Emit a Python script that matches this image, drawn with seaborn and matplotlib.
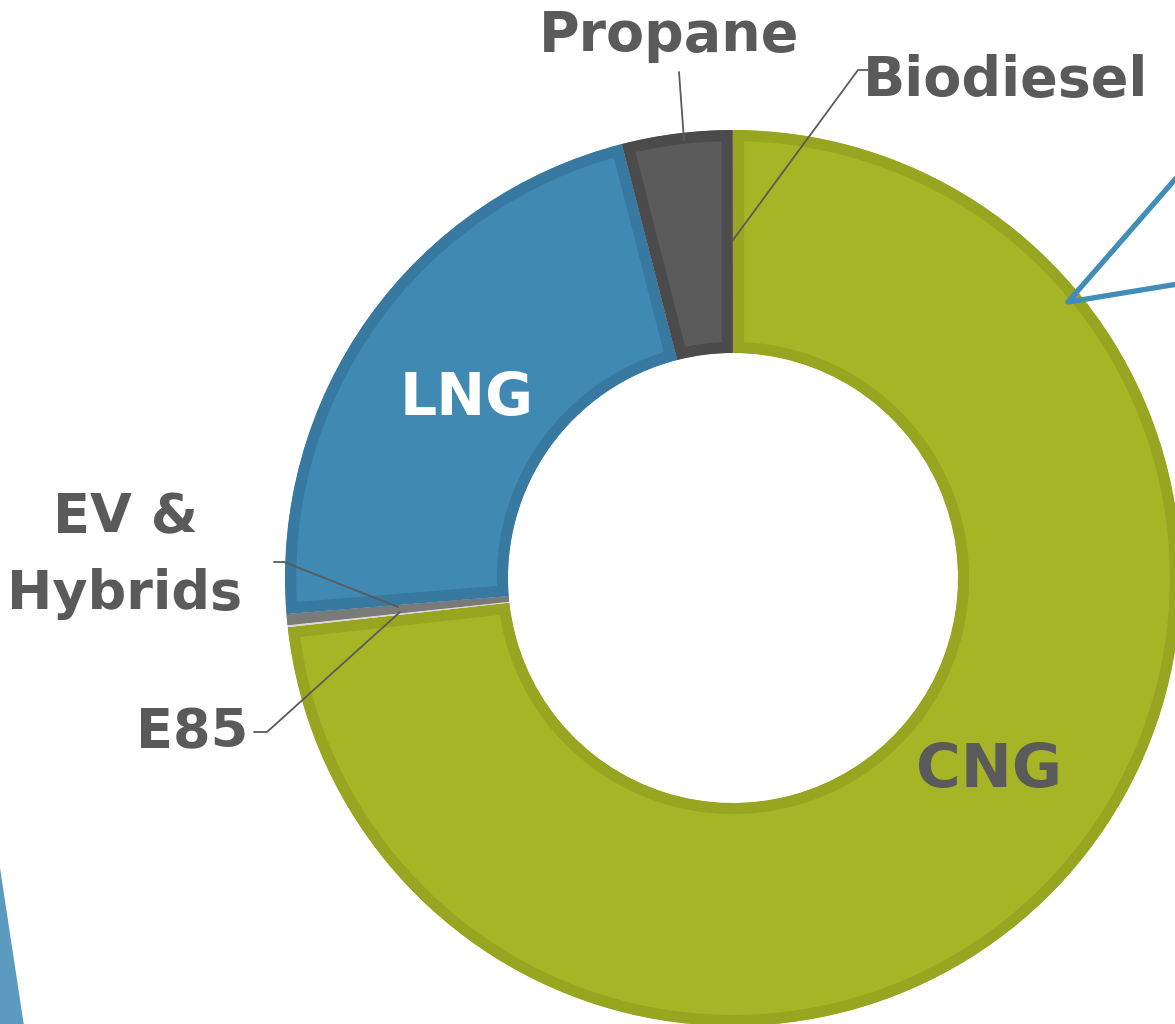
import matplotlib
matplotlib.use('Agg')
import matplotlib.pyplot as plt
import seaborn as sns

# share of fleet by fuel (percent), clockwise from 12 o'clock
fuels = ['CNG', 'E85', 'EV & Hybrids', 'LNG', 'Propane', 'Biodiesel']
shares = [73.25, 0.07, 0.40, 22.29, 3.98, 0.01]
fills = ['#A6B526', '#EDEDED', '#7A7A7A', '#3F89B2', '#5B5B5B', '#8A8A8A']
edges = ['#97A521', '#D8D8D8', '#7A7A7A', '#3779A0', '#4B4B4B', '#8A8A8A']

W, H = 1175, 1024
TXT = '#5A5A5A'

sns.set_style('white')
plt.rcParams['font.family'] = ['DejaVu Sans']

fig = plt.figure(figsize=(W / 100, H / 100), dpi=100)
ax = fig.add_axes([0, 0, 1, 1])


def P(x, y):
    # picture coords (y down) -> axes coords (y up)
    return x, H - y


cx, cy = P(733, 578)
r_out, r_in = 448, 225

wedges, _ = ax.pie(shares, colors=fills, startangle=90, counterclock=False,
                   radius=r_out, center=(cx, cy),
                   wedgeprops=dict(width=r_out - r_in, linewidth=16))
for w, ec in zip(wedges, edges):
    w.set_edgecolor(ec)
    # keep only the inner half of the stroke -> border drawn inside the slice
    w.set_clip_on(True)
    w.set_clip_path(w)
wedges[-1].set_linewidth(0)

# labels
bold = dict(fontweight='bold', ha='center', va='center', color=TXT)
ax.text(*P(669, 36), 'Propane', fontsize=40, **bold)
ax.text(*P(1006, 81), 'Biodiesel', fontsize=40, **bold)
ax.text(*P(125, 556), 'EV &\nHybrids', fontsize=39, linespacing=1.6, **bold)
ax.text(*P(192, 732), 'E85', fontsize=39, **bold)
ax.text(*P(989, 771), 'CNG', fontsize=44, **bold)
ax.text(*P(467, 398), 'LNG', fontsize=42, fontweight='bold', ha='center',
        va='center', color='white')

# leader lines
lead = dict(color=TXT, lw=1.3)
ax.plot(*zip(P(679, 72), P(684, 140)), **lead)
ax.plot(*zip(P(733, 240), P(858, 70), P(868, 70)), **lead)
ax.plot(*zip(P(274, 562), P(284, 562), P(398, 607)), **lead)
ax.plot(*zip(P(254, 732), P(267, 732), P(400, 612)), **lead)

# pieces of neighbouring shapes cut off by the frame
ax.plot(*zip(P(1178, 176), P(1068, 302), P(1178, 284)), color='#3F8DB8',
        lw=3.8, solid_joinstyle='round', solid_capstyle='round')
ax.fill(*zip(P(0, 868), P(24, 1026), P(0, 1026)), color='#5B9BC0', lw=0)

ax.set_xlim(0, W)
ax.set_ylim(0, H)
ax.set_aspect('equal')
ax.axis('off')

fig.savefig('out.png', dpi=100, facecolor='white')
